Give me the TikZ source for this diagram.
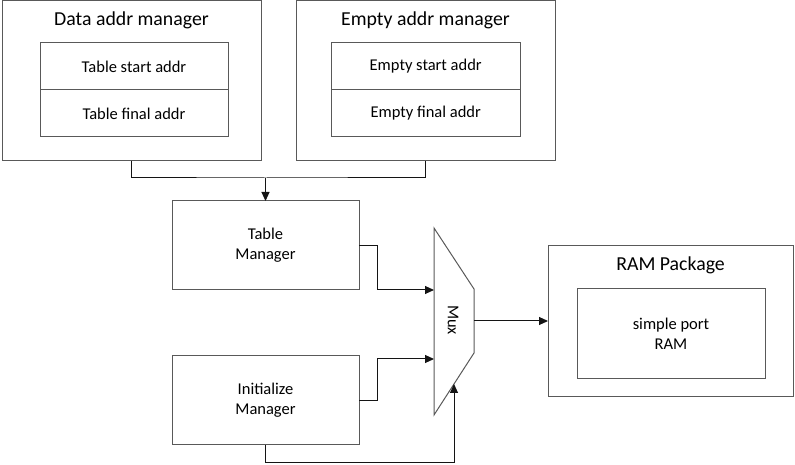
\documentclass[tikz,border=0pt]{standalone}
\usepackage{fontspec}
\setmainfont{Carlito}
\usepackage{tikz}
\usetikzlibrary{arrows.meta, calc, positioning}
\usepackage{xcolor}
\definecolor{BoxGray}{RGB}{89, 89, 89}
\definecolor{WireBlack}{RGB}{20, 20, 20}
\tikzset{%
  outer_block/.style={%
    rectangle,%
    draw=BoxGray,%
    line width=1pt,%
    minimum width=259pt,%
    minimum height=160pt,%
    outer sep=0pt,%
  },
  field_block/.style={%
    rectangle,%
    draw=BoxGray,%
    line width=1pt,%
    minimum width=188pt,%
    minimum height=47pt,%
    outer sep=0pt,%
    font={\fontsize{16.5}{20}\selectfont},%
    align=center%
  },
  smooth_block/.style={%
    rectangle,%
    draw=BoxGray,%
    line width=1pt,%
    minimum width=187pt,%
    minimum height=89pt,%
    outer sep=0pt,%
    font={\fontsize{16.5}{20}\selectfont},%
    align=center%
  },
  title_annotate/.style={%
    font={\fontsize{19.8}{24}\selectfont},%
  },
  mux_annotate/.style={%
    font={\fontsize{16.5}{20}\selectfont},%
    rotate=-90,%
  },
  mux_body/.style={%
    draw=BoxGray,%
    line width=1pt,%
    line join=miter,%
  },
  wire/.style={%
    color=WireBlack,%
    line width=1pt,%
    line join=miter,%
  },
  arrow/.style={-{Triangle[length=9pt, width=8pt]}},
}
\begin{document}
\begin{tikzpicture}[x=1pt, y=1pt]
    \useasboundingbox (0, 0) rectangle (795, 465);

    % address managers
    \node [outer_block] (DataMgr) at (131.5, 384) {};
    \node [outer_block, right = 35 of DataMgr] (EmptyMgr) {};
    \node [title_annotate] (DataTitle) at ($(DataMgr.north) + (0, -19)$) {Data addr manager};
    \node [title_annotate] (EmptyTitle) at ($(EmptyMgr.north) + (0, -19)$) {Empty addr manager};

    \node [field_block] (TableStart) at (134, 398.5) {Table start addr};
    \node [field_block, below = 0 of TableStart] (TableFinal) {Table final addr};
    \node [field_block, minimum width=189pt] (EmptyStart) at (425.7, 398.5) {Empty start addr};
    \node [field_block, minimum width=189pt, below = 0 of EmptyStart] (EmptyFinal) {Empty final addr};

    % managers
    \node [smooth_block] (TableMgr) at (265.5, 219.5) {Table\\Manager};
    \node [smooth_block, below = 66 of TableMgr] (InitMgr) {Initialize\\Manager};

    % mux
    \coordinate (MuxTL) at (434, 237);
    \coordinate (MuxTR) at (474, 176);
    \coordinate (MuxBR) at (474, 112);
    \coordinate (MuxBL) at (434, 50);
    \draw [mux_body] (MuxTL) -- (MuxTR) -- (MuxBR) -- (MuxBL) -- cycle;
    \node [mux_annotate] (MuxLabel) at (453, 145) {Mux};
    \coordinate (MuxIn1) at (434, 175);
    \coordinate (MuxIn2) at (434, 106);
    \coordinate (MuxSel) at ($(MuxBR)!0.5!(MuxBL)$);
    \coordinate (MuxOut) at (474, 144);

    % ram
    \node [outer_block, minimum width=245pt, minimum height=151pt] (RamPkg) at (670.5, 143.5) {};
    \node [title_annotate] (RamTitle) at ($(RamPkg.north) + (0, -19)$) {RAM Package};
    \node [smooth_block, minimum width=188pt, minimum height=90pt] (RamCore) at (671, 131.7) {simple port\\RAM};

    \coordinate (Join) at ($(TableMgr.north) + (0, 23)$);

    \draw [wire]
      (DataMgr.south)
      |-
      (Join)
      -|
      (EmptyMgr.south);
    \draw [arrow, wire]
      (Join)
      --
      (TableMgr.north);
    \draw [arrow, wire]
      (TableMgr.east)
      --
      +(18, 0)
      |-
      (MuxIn1);
    \draw [arrow, wire]
      (InitMgr.east)
      --
      +(18, 0)
      |-
      (MuxIn2);
    \draw [arrow, wire]
      (InitMgr.south)
      --
      +(0, -18)
      -|
      (MuxSel);
    \draw [arrow, wire]
      (MuxOut)
      --
      (RamPkg.west |- MuxOut);
\end{tikzpicture}
\end{document}
